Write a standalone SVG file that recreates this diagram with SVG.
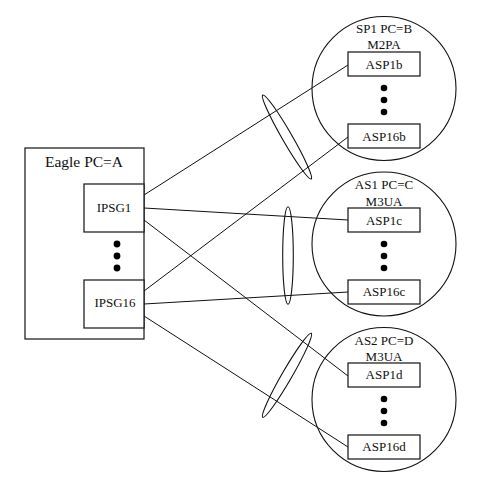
<svg xmlns="http://www.w3.org/2000/svg" width="504" height="490" viewBox="0 0 504 490">
<style>
.bg{fill:#fff}
.box{fill:#fff;stroke:#111;stroke-width:1.2}
.circ{fill:none;stroke:#111;stroke-width:1.1}
.ln{stroke:#111;stroke-width:1;fill:none}
.ell{fill:none;stroke:#111;stroke-width:1.1}
.dot{fill:#000}
text{font-family:"Liberation Serif","Times New Roman",serif;font-size:13px;fill:#111;text-anchor:middle}
.big{font-size:15.5px}
</style>
<rect class="bg" x="0" y="0" width="504" height="490"/>
<g id="eagle">
<rect class="box" x="25" y="148" width="119" height="191"/>
<text class="big" x="84" y="167">Eagle PC=A</text>
<circle class="dot" cx="117" cy="244" r="3.4"/>
<circle class="dot" cx="117" cy="256" r="3.4"/>
<circle class="dot" cx="117" cy="268" r="3.4"/>
</g>
<g id="ipsg1">
<rect class="box" x="84" y="184" width="60" height="48"/>
<text x="114" y="212">IPSG1</text>
</g>
<g id="ipsg16">
<rect class="box" x="84" y="280" width="60" height="48"/>
<text x="115" y="307">IPSG16</text>
</g>
<g id="sp1">
<circle class="circ" cx="384" cy="88.5" r="72"/>
<text x="384" y="33">SP1 PC=B</text>
<text x="384" y="49">M2PA</text>
<circle class="dot" cx="384" cy="88" r="3.3"/>
<circle class="dot" cx="384" cy="100" r="3.3"/>
<circle class="dot" cx="384" cy="112" r="3.3"/>
</g>
<g id="asp1b"><rect class="box" x="348" y="52" width="72" height="24"/><text x="384" y="68.5">ASP1b</text></g>
<g id="asp16b"><rect class="box" x="348" y="124" width="72" height="24"/><text x="384" y="140.5">ASP16b</text></g>
<g id="as1">
<circle class="circ" cx="384" cy="244" r="72"/>
<text x="384" y="189">AS1 PC=C</text>
<text x="384" y="205.5">M3UA</text>
<circle class="dot" cx="384" cy="244" r="3.3"/>
<circle class="dot" cx="384" cy="256" r="3.3"/>
<circle class="dot" cx="384" cy="268" r="3.3"/>
</g>
<g id="asp1c"><rect class="box" x="348" y="208" width="72" height="24"/><text x="384" y="224.5">ASP1c</text></g>
<g id="asp16c"><rect class="box" x="348" y="280" width="72" height="24"/><text x="384" y="296">ASP16c</text></g>
<g id="as2">
<circle class="circ" cx="384" cy="399.5" r="72"/>
<text x="384" y="345">AS2 PC=D</text>
<text x="384" y="361">M3UA</text>
<circle class="dot" cx="384" cy="399" r="3.3"/>
<circle class="dot" cx="384" cy="411" r="3.3"/>
<circle class="dot" cx="384" cy="423" r="3.3"/>
</g>
<g id="asp1d"><rect class="box" x="348" y="363" width="72" height="24"/><text x="384" y="379">ASP1d</text></g>
<g id="asp16d"><rect class="box" x="348" y="435" width="72" height="24"/><text x="384" y="451">ASP16d</text></g>
<g id="connectors">
<line class="ln" x1="144" y1="195" x2="348" y2="65"/>
<line class="ln" x1="144" y1="208" x2="348" y2="220"/>
<line class="ln" x1="144" y1="220" x2="348" y2="376"/>
<line class="ln" x1="144" y1="291" x2="348" y2="137"/>
<line class="ln" x1="144" y1="304" x2="348" y2="292"/>
<line class="ln" x1="144" y1="316" x2="348" y2="447"/>
<ellipse class="ell" cx="287" cy="137" rx="5" ry="48.5" transform="rotate(-30 287 137)"/>
<ellipse class="ell" cx="288" cy="255.5" rx="5.3" ry="48.7"/>
<ellipse class="ell" cx="287" cy="375.3" rx="5" ry="48.5" transform="rotate(30 287 375.3)"/>
</g>
</svg>
